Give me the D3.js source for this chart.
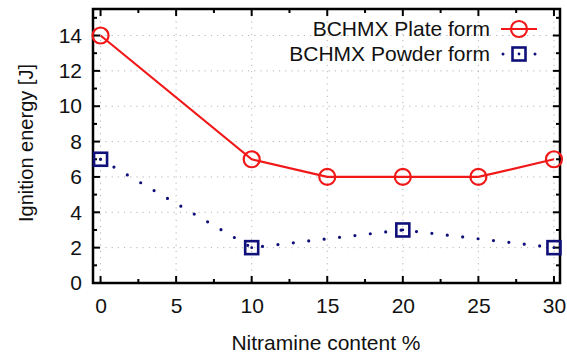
<!DOCTYPE html>
<html>
<head>
<meta charset="utf-8">
<script src="https://cdn.jsdelivr.net/npm/d3@7"></script>
<style>
  html, body { margin: 0; padding: 0; background: #fff; }
  svg { display: block; font-family: "Liberation Sans", Arial, sans-serif; }
</style>
</head>
<body>
<svg id="chart" width="567" height="353"></svg>
<script>
// Nitramine content (%) and ignition energy (J) for the two BCHMX forms
const plateContent = [0, 10, 15, 20, 25, 30];
const plateEnergy = [14, 7, 6, 6, 6, 7];
const powderContent = [0, 10, 20, 30];
const powderEnergy = [7, 2, 3, 2];
const seriesNames = ["BCHMX Plate form", "BCHMX Powder form"];
const xTicks = [0, 5, 10, 15, 20, 25, 30];
const yTicks = [0, 2, 4, 6, 8, 10, 12, 14];

const svg = d3.select("#chart");
const plotLeft = 93, plotRight = 560, plotTop = 9, plotBottom = 283;
const fontSize = 21;

const x = d3.scaleLinear().domain([-0.5, 30.4]).range([plotLeft, plotRight]);
const y = d3.scaleLinear().domain([0, 15.5]).range([plotBottom, plotTop]);

const red = "#f01818", navy = "#10107a";

// dotted grid at major ticks
const grid = svg.append("g").attr("stroke", "#b4b4b4").attr("stroke-width", 1)
  .attr("stroke-dasharray", "1.2 5");
xTicks.forEach(t => grid.append("line")
  .attr("x1", x(t)).attr("x2", x(t)).attr("y1", plotBottom).attr("y2", plotTop));
yTicks.forEach(t => grid.append("line")
  .attr("x1", plotLeft).attr("x2", plotRight).attr("y1", y(t)).attr("y2", y(t)));

// inward ticks on all four sides
const minorX = d3.range(0, 30.01, 2.5);
const minorY = d3.range(0, 15.01, 1);
const tickG = svg.append("g").attr("stroke", "#000").attr("stroke-width", 2);
minorX.forEach(t => {
  const len = (t % 5 === 0) ? 7 : 4;
  tickG.append("line").attr("x1", x(t)).attr("x2", x(t)).attr("y1", plotBottom).attr("y2", plotBottom - len);
  tickG.append("line").attr("x1", x(t)).attr("x2", x(t)).attr("y1", plotTop).attr("y2", plotTop + len);
});
minorY.forEach(t => {
  const len = (t % 2 === 0) ? 7 : 4;
  tickG.append("line").attr("x1", plotLeft).attr("x2", plotLeft + len).attr("y1", y(t)).attr("y2", y(t));
  tickG.append("line").attr("x1", plotRight).attr("x2", plotRight - len).attr("y1", y(t)).attr("y2", y(t));
});

// tick labels via axes with hidden tick lines
const xAxis = svg.append("g").attr("transform", `translate(0,${plotBottom})`)
  .call(d3.axisBottom(x).tickValues(xTicks).tickSize(0).tickPadding(15));
const yAxis = svg.append("g").attr("transform", `translate(${plotLeft},0)`)
  .call(d3.axisLeft(y).tickValues(yTicks).tickSize(0).tickPadding(11));
[xAxis, yAxis].forEach(a => {
  a.select(".domain").remove();
  a.selectAll("text").attr("font-size", fontSize).attr("fill", "#111")
    .attr("font-family", "Liberation Sans, Arial, sans-serif");
});

// frame
svg.append("rect").attr("x", plotLeft).attr("y", plotTop)
  .attr("width", plotRight - plotLeft).attr("height", plotBottom - plotTop)
  .attr("fill", "none").attr("stroke", "#000").attr("stroke-width", 2.5);

// axis titles
svg.append("text").attr("x", 326).attr("y", 350).attr("text-anchor", "middle")
  .attr("font-size", fontSize).attr("fill", "#111").text("Nitramine content %");
svg.append("text").attr("transform", "translate(33,143) rotate(-90)")
  .attr("text-anchor", "middle").attr("font-size", 20).attr("fill", "#111")
  .text("Ignition energy [J]");

const plate = plateContent.map((c, i) => [c, plateEnergy[i]]);
const powder = powderContent.map((c, i) => [c, powderEnergy[i]]);
const line = d3.line().x(d => x(d[0])).y(d => y(d[1]));

// powder form: dotted navy line with open squares
svg.append("path").attr("d", line(powder)).attr("fill", "none")
  .attr("stroke", navy).attr("stroke-width", 3.2).attr("stroke-linecap", "round")
  .attr("stroke-dasharray", "0 15.5");
// plate form: solid red line with open circles
svg.append("path").attr("d", line(plate)).attr("fill", "none")
  .attr("stroke", red).attr("stroke-width", 2.2);

svg.selectAll("circle.plate").data(plate).enter().append("circle")
  .attr("class", "plate").attr("cx", d => x(d[0])).attr("cy", d => y(d[1]))
  .attr("r", 8).attr("fill", "none").attr("stroke", red).attr("stroke-width", 2.2);

const sq = 13;
svg.selectAll("rect.powder").data(powder).enter().append("rect")
  .attr("class", "powder").attr("x", d => x(d[0]) - sq / 2).attr("y", d => y(d[1]) - sq / 2)
  .attr("width", sq).attr("height", sq).attr("fill", "none")
  .attr("stroke", navy).attr("stroke-width", 2.6);
svg.selectAll("circle.powderDot").data(powder).enter().append("circle")
  .attr("class", "powderDot").attr("cx", d => x(d[0])).attr("cy", d => y(d[1]))
  .attr("r", 1.4).attr("fill", navy);

// legend
const lg = svg.append("g");
const textRight = 490, sampleX1 = 501, sampleX2 = 537, sampleMid = 519;
const row1 = 29, row2 = 54;
lg.append("text").attr("x", textRight).attr("y", row1).attr("dy", "0.35em")
  .attr("text-anchor", "end").attr("font-size", fontSize).attr("fill", "#111").text(seriesNames[0]);
lg.append("line").attr("x1", sampleX1).attr("x2", sampleX2).attr("y1", row1).attr("y2", row1)
  .attr("stroke", red).attr("stroke-width", 2.2);
lg.append("circle").attr("cx", sampleMid).attr("cy", row1).attr("r", 8)
  .attr("fill", "none").attr("stroke", red).attr("stroke-width", 2.2);

lg.append("text").attr("x", textRight).attr("y", row2).attr("dy", "0.35em")
  .attr("text-anchor", "end").attr("font-size", fontSize).attr("fill", "#111").text(seriesNames[1]);
[sampleX1 + 2, sampleX2 - 2].forEach(px => lg.append("circle")
  .attr("cx", px).attr("cy", row2).attr("r", 1.5).attr("fill", navy));
lg.append("rect").attr("x", sampleMid - sq / 2).attr("y", row2 - sq / 2)
  .attr("width", sq).attr("height", sq).attr("fill", "none")
  .attr("stroke", navy).attr("stroke-width", 2.6);
lg.append("circle").attr("cx", sampleMid).attr("cy", row2).attr("r", 1.4).attr("fill", navy);
</script>
</body>
</html>
